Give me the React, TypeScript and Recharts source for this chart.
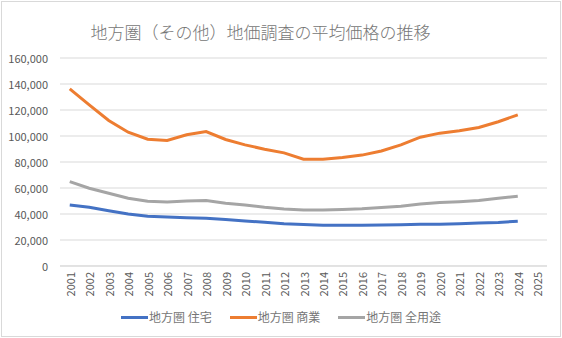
import React from 'react';
import { LineChart, Line, XAxis, YAxis, CartesianGrid } from 'recharts';

const years = ['2001','2002','2003','2004','2005','2006','2007','2008','2009','2010','2011','2012','2013','2014','2015','2016','2017','2018','2019','2020','2021','2022','2023','2024','2025'];
const residential = [47000,45200,42500,40000,38200,37700,37200,36700,35700,34600,33600,32500,32000,31300,31300,31300,31600,31700,32100,32200,32500,33000,33500,34400,null];
const commercial = [136300,124000,111900,102900,97500,96500,100900,103400,97300,93200,89800,87000,82200,82100,83400,85300,88500,93200,99100,102200,104000,106500,111000,116300,null];
const allUses = [64900,59800,56000,52100,49800,49300,50000,50300,48300,47000,45200,43800,43000,43000,43400,44000,45000,46000,47700,48800,49500,50300,52100,53700,null];
const yTicks = [0,20000,40000,60000,80000,100000,120000,140000,160000];
const seriesNames = ['地方圏 住宅','地方圏 商業','地方圏 全用途'];
const colors = ['#4472C4','#ED7D31','#A5A5A5'];
const title = '地方圏（その他）地価調査の平均価格の推移';

const data = years.map((y, i) => ({
  year: y,
  residential: residential[i],
  commercial: commercial[i],
  allUses: allUses[i],
}));

const FONT = '"Noto Sans CJK JP", "Noto Sans", sans-serif';
const TEXT = '#595959';
const LIGHT = '#767676';

const YTick = (props: any) => {
  const { x, y, payload } = props;
  return (
    <text x={x} y={y} textAnchor="end" dominantBaseline="central" fill={TEXT} fontSize={11} fontFamily={FONT}>
      {Number(payload.value).toLocaleString('en-US')}
    </text>
  );
};

const XTick = (props: any) => {
  const { x, y, payload } = props;
  return (
    <text x={0} y={0} transform={`translate(${x},${y}) rotate(-90)`} textAnchor="end" dominantBaseline="central" fill={TEXT} fontSize={11} fontFamily={FONT}>
      {payload.value}
    </text>
  );
};

export default function App() {
  return (
    <div style={{ position: 'absolute', left: 0, top: 0, width: 562, height: 338, background: '#fff' }}>
      <div style={{ position: 'absolute', left: 1, top: 1, width: 558, height: 334, border: '1px solid #D9D9D9' }} />
      <div style={{ position: 'absolute', left: 0, top: 20, width: 521, textAlign: 'center', fontFamily: FONT, fontSize: 17, fontWeight: 300, color: LIGHT, lineHeight: '24px' }}>
        {title}
      </div>
      <div style={{ position: 'absolute', left: 0, top: 0 }}>
        <LineChart width={562} height={338} data={data} margin={{ top: 58, right: 15, left: 0, bottom: 32 }}>
          <CartesianGrid vertical={false} stroke="#D9D9D9" strokeWidth={1} />
          <XAxis
            dataKey="year"
            axisLine={{ stroke: '#D9D9D9' }}
            tickLine={false}
            tick={<XTick />}
            tickSize={0}
            tickMargin={6}
            interval={0}
            height={40}
            padding={{ left: 9.75, right: 9.75 }}
          />
          <YAxis
            domain={[0, 160000]}
            ticks={yTicks}
            axisLine={false}
            tickLine={false}
            tickSize={0}
            tickMargin={12}
            tick={<YTick />}
            width={60}
            interval={0}
          />
          <Line type="linear" dataKey="residential" name={seriesNames[0]} stroke={colors[0]} strokeWidth={3} dot={false} isAnimationActive={false} />
          <Line type="linear" dataKey="commercial" name={seriesNames[1]} stroke={colors[1]} strokeWidth={3} dot={false} isAnimationActive={false} />
          <Line type="linear" dataKey="allUses" name={seriesNames[2]} stroke={colors[2]} strokeWidth={3} dot={false} isAnimationActive={false} />
        </LineChart>
      </div>
      <div style={{ position: 'absolute', left: 0, top: 308, width: 562, display: 'flex', justifyContent: 'center', fontFamily: FONT, fontSize: 12, color: LIGHT, lineHeight: '18px' }}>
        {seriesNames.map((n, i) => (
          <div key={n} style={{ display: 'flex', alignItems: 'center', marginRight: i < 2 ? 18 : 0 }}>
            <div style={{ width: 27, height: 3, background: colors[i], marginRight: 1 }} />
            <span>{n}</span>
          </div>
        ))}
      </div>
    </div>
  );
}
